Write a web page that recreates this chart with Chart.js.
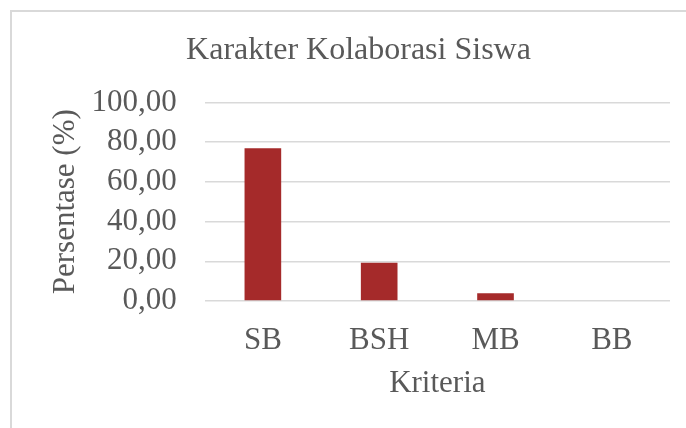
<!DOCTYPE html>
<html>
<head>
<meta charset="utf-8">
<script src="https://cdn.jsdelivr.net/npm/chart.js@4"></script>
<style>
  html, body { margin: 0; padding: 0; background: #fff; overflow: hidden; }
  #frame { position: absolute; left: 10px; top: 10px; width: 700px; height: 500px;
           border-top: 2px solid #d9d9d9; border-left: 2px solid #d9d9d9; }
  #wrap { position: absolute; left: 0; top: 0; width: 686px; height: 428px; }
</style>
</head>
<body>
<div id="frame"></div>
<div id="wrap"><canvas id="chart" width="686" height="428"></canvas></div>
<script>
const categories = ['SB', 'BSH', 'MB', 'BB']
const percentages = [76.92, 19.23, 3.85, 0]
const yTicks = [0, 20, 40, 60, 80, 100]

const textColor = '#595959'
const serif = 'Liberation Serif, Times New Roman, serif'

const ctx = document.getElementById('chart').getContext('2d')
let chart = new Chart(ctx, {
  type: 'bar',
  data: {
    labels: categories,
    datasets: [{
      label: 'Persentase',
      data: percentages,
      backgroundColor: '#a52a2a',
      borderWidth: 0,
      barPercentage: 0.315,
      categoryPercentage: 1
    }]
  },
  options: {
    responsive: false,
    animation: false,
    layout: { padding: { left: 47, right: 16, top: 0, bottom: 22 } },
    plugins: {
      legend: { display: false },
      tooltip: { enabled: false },
      title: {
        display: true,
        text: 'Karakter Kolaborasi Siswa',
        color: textColor,
        font: { family: serif, size: 32, weight: 'normal', lineHeight: 1.2 },
        padding: { top: 31, bottom: 33 }
      }
    },
    scales: {
      x: {
        afterFit: (scale) => { scale.height = 105 },
        grid: { display: false, drawTicks: false },
        border: { display: false },
        ticks: { color: textColor, padding: 21, font: { family: serif, size: 31, lineHeight: 1.2 } },
        title: {
          display: true, text: 'Kriteria', color: textColor,
          font: { family: serif, size: 31, lineHeight: 1.2 },
          padding: { top: 7, bottom: 4 }
        }
      },
      y: {
        min: 0,
        max: 100,
        afterFit: (scale) => { scale.width = 157.7 },
        afterBuildTicks: (scale) => { scale.ticks = yTicks.map(v => ({ value: v })) },
        grid: { color: '#d9d9d9', lineWidth: 1.5, drawTicks: false },
        border: { display: false },
        ticks: {
          color: textColor, padding: 28, autoSkip: false,
          font: { family: serif, size: 31, lineHeight: 1.2 },
          callback: (v) => v.toFixed(2).replace('.', ',')
        },
        title: {
          display: true, text: 'Persentase (%)', color: textColor,
          font: { family: serif, size: 31, lineHeight: 1.2 },
          padding: { top: 0, bottom: 7 }
        }
      }
    }
  }
})
</script>
</body>
</html>
